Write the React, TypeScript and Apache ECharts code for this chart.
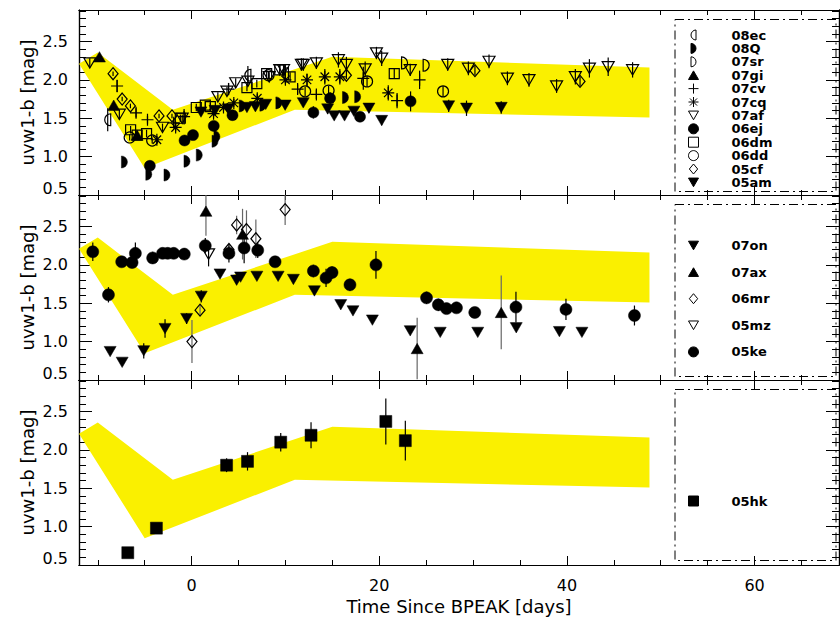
import React, { useEffect, useRef } from 'react';
import * as echarts from 'echarts';

// ---------- axes ----------
const X_MIN = -12;
const X_MAX = 69;
const Y_MIN = 0.5;
const Y_MAX = 2.91;
const X_MAJOR = [0, 20, 40, 60];
const X_MINOR = [-10, -5, 5, 10, 15, 25, 30, 35, 45, 50, 55, 65];
const Y_MAJOR = [0.5, 1.0, 1.5, 2.0, 2.5];
const Y_MINOR = [0.6, 0.7, 0.8, 0.9, 1.1, 1.2, 1.3, 1.4, 1.6, 1.7, 1.8, 1.9, 2.1, 2.2, 2.3, 2.4, 2.6, 2.7, 2.8, 2.9];

// ---------- yellow template band (polygon vertices) ----------
const BAND = [
  [-12, 2.21], [-10, 2.355], [-2, 1.61], [15, 2.3], [48.8, 2.16],
  [48.8, 1.51], [11, 1.61], [-5, 0.85],
];

// ---------- data: [day, uvw1-b, error] ----------
// top panel
const d08ec = [[-8.94, 1.48, 0.15], [6.0, 2.06, 0.12], [10.0, 2.08, 0.1]];
const d08Q = [[-7.16, 0.93, 0], [-4.56, 0.77, 0], [-2.62, 0.76, 0], [-0.49, 0.94, 0], [0.82, 1.02, 0], [2.5, 1.2, 0], [2.7, 1.26, 0], [5.4, 1.66, 0], [7.6, 1.67, 0], [9.3, 1.7, 0], [16.4, 1.77, 0], [17.7, 1.78, 0]];
const d07sr = [[22.7, 2.22, 0], [25.0, 2.19, 0]];
const d07gi = [[-9.82, 2.3, 0], [-8.3, 1.67, 0], [-5.81, 1.28, 0.05]];
const d07cv = [[-7.94, 1.92, 0.08], [-5.92, 1.57, 0.06], [-4.7, 1.48, 0.05], [-1.9, 1.44, 0.06], [-0.8, 1.52, 0.1], [3.94, 1.88, 0.08], [11.3, 1.88, 0.06], [13.3, 1.81, 0.06], [18.3, 2.02, 0.15], [21.9, 1.73, 0.1], [24.3, 2.0, 0.12]];
const d07cq = [[-3.7, 1.22, 0.05], [-1.7, 1.38, 0.05], [2.34, 1.56, 0.05], [3.4, 1.64, 0.05], [4.5, 1.7, 0.05], [7.0, 1.76, 0.06], [10.0, 2.0, 0.06], [12.3, 2.0, 0.08], [14.2, 2.04, 0.1], [15.8, 2.04, 0.1], [20.96, 1.83, 0.1]];
const d07af = [[-10.85, 2.22, 0.06], [-7.7, 1.55, 0.06], [-3.1, 1.38, 0.05], [-1.0, 1.5, 0.05], [2.8, 1.78, 0.06], [3.77, 1.85, 0.06], [4.7, 1.96, 0.06], [6.0, 1.98, 0.06], [8.27, 2.04, 0.06], [9.4, 2.13, 0.07], [9.8, 2.13, 0.07], [11.7, 2.2, 0.08], [11.9, 2.2, 0.08], [13.3, 2.22, 0.08], [15.65, 2.26, 0.1], [16.5, 2.2, 0.1], [18.5, 2.14, 0.1], [19.7, 2.35, 0.08], [20.26, 2.28, 0.1], [23.3, 2.13, 0.08], [27.3, 2.2, 0.08], [29.5, 2.15, 0.09], [31.7, 2.24, 0.09], [33.66, 2.02, 0.09], [35.96, 2.0, 0.09], [38.9, 1.92, 0.09], [40.9, 2.04, 0.1], [42.4, 2.15, 0.12], [44.4, 2.17, 0.12], [47.0, 2.13, 0.1]];
const d06ej = [[-4.45, 0.88, 0.03], [-0.75, 1.21, 0.03], [0.15, 1.28, 0.03], [2.36, 1.4, 0.04], [4.36, 1.54, 0.05], [12.98, 1.575, 0.08], [14.76, 1.76, 0.08], [17.95, 1.52, 0.06], [23.34, 1.72, 0.13]];
const d06dm = [[-6.5, 1.35, 0.05], [-5.8, 1.28, 0.05], [-4.8, 1.3, 0.05], [-1.2, 1.5, 0.05], [0.5, 1.64, 0.05], [1.46, 1.67, 0.05], [2.0, 1.65, 0.05], [5.9, 1.9, 0.05], [6.95, 1.95, 0.05], [8.0, 2.08, 0.06], [9.4, 2.13, 0.06], [10.5, 2.04, 0.06], [21.6, 2.08, 0.07]];
const d06dd = [[-6.6, 1.25, 0.04], [-4.2, 1.21, 0.04], [8.2, 2.06, 0.05], [12.1, 1.85, 0.06], [14.6, 1.86, 0.06], [18.7, 1.98, 0.07], [26.8, 1.85, 0.07]];
const d05cf = [[-8.37, 2.08, 0.03], [-7.4, 1.75, 0.03], [-6.52, 1.66, 0.03], [-3.47, 1.53, 0.03], [-2.09, 1.53, 0.03], [16.5, 2.06, 0.05], [30.2, 2.12, 0.06], [41.4, 1.98, 0.06]];
const d05am = [[1.0, 1.58, 0.05], [2.5, 1.6, 0.05], [3.9, 1.62, 0.05], [5.9, 1.64, 0.05], [6.8, 1.65, 0.05], [7.9, 1.68, 0.05], [9.97, 1.67, 0.05], [11.9, 1.7, 0.05], [14.5, 1.62, 0.06], [15.2, 1.53, 0.05], [16.3, 1.53, 0.05], [17.3, 1.59, 0.05], [18.9, 1.63, 0.06], [20.26, 1.47, 0.06], [27.4, 1.66, 0.08], [29.3, 1.63, 0.1], [33.0, 1.64, 0.08]];
// middle panel
const d07on = [[-8.68, 0.87, 0], [-7.4, 0.73, 0], [-5.1, 0.88, 0.1], [-2.83, 1.17, 0.12], [-0.53, 1.3, 0.07], [1.03, 1.59, 0.08], [3.03, 1.88, 0], [4.8, 1.8, 0], [5.22, 1.84, 0], [6.96, 1.85, 0], [9.22, 1.85, 0], [10.85, 1.81, 0], [13.09, 1.66, 0], [15.9, 1.48, 0], [17.2, 1.4, 0], [19.27, 1.28, 0], [23.3, 1.14, 0], [26.5, 1.12, 0], [30.5, 1.12, 0], [34.6, 1.18, 0], [39.2, 1.13, 0], [41.6, 1.12, 0]];
const d07ax = [[1.53, 2.7, 0.32], [5.43, 2.4, 0.33], [24.04, 0.91, 0.4], [33.0, 1.38, 0.48]];
const d06mr = [[0.04, 1.0, 0.28], [0.9, 1.41, 0.07], [3.98, 2.2, 0.05], [4.8, 2.52, 0.12], [5.85, 2.46, 0.25], [6.85, 2.34, 0.25], [9.97, 2.72, 0.2]];
const d05mz = [[1.81, 2.14, 0.16]];
const d05ke = [[-10.53, 2.17, 0.12], [-8.86, 1.61, 0.1], [-7.45, 2.04, 0.05], [-6.34, 2.03, 0.06], [-5.99, 2.15, 0.14], [-4.15, 2.09, 0.08], [-3.09, 2.15, 0.07], [-2.55, 2.15, 0.07], [-1.91, 2.15, 0.05], [-0.78, 2.14, 0.04], [1.46, 2.25, 0.1], [3.98, 2.15, 0.12], [5.6, 2.22, 0.2], [7.05, 2.19, 0.1], [8.9, 2.04, 0.06], [12.98, 1.92, 0.08], [14.33, 1.83, 0.12], [14.97, 1.9, 0.08], [16.88, 1.74, 0.08], [19.65, 2.0, 0.18], [25.04, 1.57, 0.08], [26.3, 1.48, 0.08], [27.17, 1.43, 0.07], [28.23, 1.44, 0.06], [30.18, 1.38, 0.06], [34.57, 1.45, 0.2], [39.9, 1.42, 0.14], [47.2, 1.34, 0.13]];
// bottom panel
const d05hk = [[-6.8, 0.66, 0.05], [-3.75, 0.98, 0.05], [3.73, 1.8, 0.09], [5.96, 1.85, 0.12], [9.5, 2.1, 0.12], [12.73, 2.19, 0.17], [20.7, 2.37, 0.3], [22.78, 2.12, 0.26]];

const LEGEND_TOP = ['08ec', '08Q', '07sr', '07gi', '07cv', '07cq', '07af', '06ej', '06dm', '06dd', '05cf', '05am'];
const LEGEND_MID = ['07on', '07ax', '06mr', '05mz', '05ke'];
const LEGEND_BOT = ['05hk'];

// ---------- symbols ----------
const SYM = {
  leftHalf: 'path://M10,0 A10,10 0 0,0 10,20 Z',
  rightHalf: 'path://M0,0 A10,10 0 0,1 0,20 Z',
  triUp: 'path://M10,0 L20,17.3 L0,17.3 Z',
  triDown: 'path://M0,0 L20,0 L10,17.3 Z',
  plus: 'path://M10,0 L10,20 M0,10 L20,10',
  star: 'path://M10,0 L10,20 M0,10 L20,10 M2.9,2.9 L17.1,17.1 M2.9,17.1 L17.1,2.9',
  circle: 'circle',
  square: 'rect',
  diamond: 'path://M10,0 L20,12 L10,24 L0,12 Z',
};

const SPECS = [
  { name: '08ec', data: d08ec, symbol: SYM.leftHalf, size: 12, filled: false, grid: 0 },
  { name: '08Q', data: d08Q, symbol: SYM.rightHalf, size: 12, filled: true, grid: 0 },
  { name: '07sr', data: d07sr, symbol: SYM.rightHalf, size: 12, filled: false, grid: 0 },
  { name: '07gi', data: d07gi, symbol: SYM.triUp, size: 12, filled: true, grid: 0 },
  { name: '07cv', data: d07cv, symbol: SYM.plus, size: 12, filled: false, grid: 0 },
  { name: '07cq', data: d07cq, symbol: SYM.star, size: 12, filled: false, grid: 0 },
  { name: '07af', data: d07af, symbol: SYM.triDown, size: 12, filled: false, grid: 0 },
  { name: '06ej', data: d06ej, symbol: SYM.circle, size: 11, filled: true, grid: 0 },
  { name: '06dm', data: d06dm, symbol: SYM.square, size: 10, filled: false, grid: 0 },
  { name: '06dd', data: d06dd, symbol: SYM.circle, size: 11, filled: false, grid: 0 },
  { name: '05cf', data: d05cf, symbol: SYM.diamond, size: 12, filled: false, grid: 0 },
  { name: '05am', data: d05am, symbol: SYM.triDown, size: 12, filled: true, grid: 0 },
  { name: '07on', data: d07on, symbol: SYM.triDown, size: 12, filled: true, grid: 1 },
  { name: '07ax', data: d07ax, symbol: SYM.triUp, size: 12, filled: true, grid: 1, errColor: '#666' },
  { name: '06mr', data: d06mr, symbol: SYM.diamond, size: 12, filled: false, grid: 1, errColor: '#666' },
  { name: '05mz', data: d05mz, symbol: SYM.triDown, size: 12, filled: false, grid: 1 },
  { name: '05ke', data: d05ke, symbol: SYM.circle, size: 12, filled: true, grid: 1 },
  { name: '05hk', data: d05hk, symbol: SYM.square, size: 12, filled: true, grid: 2 },
];

const FONT = 'DejaVu Sans';
const YELLOW = '#FAF000';
const GRID_TOPS = [10, 195, 380];
const GRID_H = 185;

function buildOption() {
  const grid = GRID_TOPS.map((t) => ({ left: 79, top: t, width: 760, height: GRID_H }));
  const xAxis: any[] = [];
  const yAxis: any[] = [];
  GRID_TOPS.forEach((_, gi) => {
    const lineStyle = { color: '#000', width: 1.2 };
    const xb = {
      type: 'value', gridIndex: gi, min: X_MIN, max: X_MAX,
      splitLine: { show: false },
      axisLine: { show: true, onZero: false, lineStyle },
    };
    const mkX = (pos: string, major: boolean, main: boolean) => ({
      ...xb,
      position: pos,
      axisTick: { show: true, inside: true, length: major ? 9 : 5, customValues: major ? X_MAJOR : X_MINOR, lineStyle: { color: '#000', width: 1 } },
      axisLabel: main && gi === 2
        ? { show: true, customValues: X_MAJOR, margin: 12, color: '#000', fontSize: 16, fontFamily: FONT }
        : { show: false },
      ...(main && gi === 2
        ? { name: 'Time Since BPEAK [days]', nameLocation: 'middle', nameGap: 32, nameMoveOverlap: false, nameTextStyle: { color: '#000', fontSize: 18, fontFamily: FONT } }
        : {}),
    });
    xAxis.push(mkX('bottom', true, true), mkX('bottom', false, false), mkX('top', true, false), mkX('top', false, false));

    const yb = {
      type: 'value', gridIndex: gi, min: Y_MIN, max: Y_MAX,
      splitLine: { show: false },
      axisLine: { show: true, onZero: false, lineStyle },
    };
    const mkY = (pos: string, major: boolean, main: boolean) => ({
      ...yb,
      position: pos,
      axisTick: { show: true, inside: true, length: major ? 13 : 7, customValues: major ? Y_MAJOR : Y_MINOR, lineStyle: { color: '#000', width: 1 } },
      axisLabel: main
        ? {
            show: true, customValues: Y_MAJOR, margin: 11, color: '#000', fontSize: 16, fontFamily: FONT,
            formatter: (v: number) => (v < 0.75 ? `{lo|${v.toFixed(1)}}` : v.toFixed(1)),
            rich: { lo: { padding: [0, 0, 14, 0], color: '#000', fontSize: 16, fontFamily: FONT } },
          }
        : { show: false },
      ...(main
        ? { name: 'uvw1-b [mag]', nameLocation: 'middle', nameGap: 43, nameMoveOverlap: false, nameTextStyle: { color: '#000', fontSize: 18, fontFamily: FONT } }
        : {}),
    });
    yAxis.push(mkY('left', true, true), mkY('left', false, false), mkY('right', true, false), mkY('right', false, false));
  });

  const series: any[] = [];
  // bands
  GRID_TOPS.forEach((_, gi) => {
    series.push({
      type: 'custom', name: `band${gi}`, xAxisIndex: gi * 4, yAxisIndex: gi * 4,
      clip: true, silent: true, z: 1,
      data: [BAND[0]],
      renderItem: (_p: any, api: any) => ({
        type: 'polygon',
        shape: { points: BAND.map((pt) => api.coord(pt)) },
        style: { fill: YELLOW },
      }),
    });
  });
  SPECS.forEach((s) => {
    const gi = s.grid;
    const err = s.data.filter((d) => d[2] > 0).map((d) => [d[0], d[1] - d[2], d[1] + d[2]]);
    if (err.length) {
      const col = s.errColor || '#000';
      series.push({
        type: 'custom', name: `${s.name} err`, xAxisIndex: gi * 4, yAxisIndex: gi * 4,
        clip: true, silent: true, z: 2,
        encode: { x: 0, y: [1, 2] },
        data: err,
        renderItem: (_p: any, api: any) => {
          const x = api.value(0);
          const a = api.coord([x, api.value(1)]);
          const b = api.coord([x, api.value(2)]);
          return { type: 'line', shape: { x1: a[0], y1: a[1], x2: b[0], y2: b[1] }, style: { stroke: col, lineWidth: 1.2 } };
        },
      });
    }
    series.push({
      type: 'scatter', name: s.name, xAxisIndex: gi * 4, yAxisIndex: gi * 4,
      symbol: s.symbol, symbolSize: s.size, symbolKeepAspect: true, z: 3,
      itemStyle: s.filled
        ? { color: '#000', borderColor: '#000', borderWidth: 0.5, opacity: 1 }
        : { color: 'rgba(0,0,0,0)', borderColor: '#000', borderWidth: 1.2, opacity: 1 },
      data: s.data.map((d) => [d[0], d[1]]),
    });
  });

  const legendBase = {
    orient: 'vertical', left: 688, selectedMode: false, padding: 0,
    itemWidth: 10, itemHeight: 10,
    itemStyle: { borderWidth: 1, opacity: 1 },
    textStyle: { color: '#000', fontSize: 13, fontWeight: 'bold', fontFamily: FONT, lineHeight: 12, padding: [0, 0, 0, 28] },
  };
  const legend = [
    { ...legendBase, top: 28.5, itemGap: 0.4, data: LEGEND_TOP },
    { ...legendBase, top: 239, itemGap: 13.6, data: LEGEND_MID },
    { ...legendBase, top: 494.5, itemGap: 8, data: LEGEND_BOT },
  ];

  const boxStyle = { stroke: '#000', fill: 'none', lineWidth: 1, lineDash: [9, 4, 2, 4] };
  const graphic = [
    { type: 'rect', shape: { x: 675, y: 19.5, width: 161, height: 172 }, style: boxStyle, silent: true },
    { type: 'rect', shape: { x: 675, y: 204.5, width: 161, height: 172 }, style: boxStyle, silent: true },
    { type: 'rect', shape: { x: 675, y: 389.5, width: 161, height: 171 }, style: boxStyle, silent: true },
  ];

  return { animation: false, backgroundColor: '#fff', grid, xAxis, yAxis, series, legend, graphic };
}

export default function App() {
  const ref = useRef<HTMLDivElement>(null);
  useEffect(() => {
    document.body.style.margin = '0';
    const chart = echarts.init(ref.current!, null, { renderer: 'svg' });
    chart.setOption(buildOption() as any);
    return () => chart.dispose();
  }, []);
  return <div ref={ref} style={{ width: 840, height: 621 }} />;
}
